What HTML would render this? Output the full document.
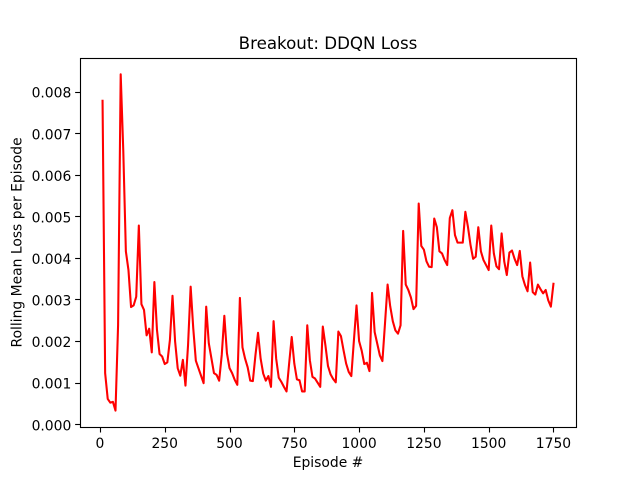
<!DOCTYPE html>
<html>
<head>
<meta charset="utf-8">
<title>Breakout: DDQN Loss</title>
<style>
html,body{margin:0;padding:0;background:#fff;}
svg{display:block;font-family:"DejaVu Sans",sans-serif;fill:#000;}
</style>
</head>
<body>
<svg id="chart" width="640" height="480" viewBox="0 0 640 480" xmlns="http://www.w3.org/2000/svg">
  <rect x="0" y="0" width="640" height="480" fill="#fff"/>
  <rect x="80" y="57.6" width="496" height="369.6" fill="#fff"/>
  <g id="marks"></g>
  <g id="axes"></g>
  <rect x="80.5" y="58.5" width="496" height="369" fill="none" stroke="#000" stroke-width="1.11"/>
  <text x="328" y="49" font-size="16.67" text-anchor="middle">Breakout: DDQN Loss</text>
  <text x="328" y="467" font-size="13.89" text-anchor="middle">Episode #</text>
  <text x="0" y="0" font-size="13.89" text-anchor="middle" transform="translate(21.5,242.4) rotate(-90)">Rolling Mean Loss per Episode</text>
</svg>
<script>
const episodeStep = 10;
const lossValues = [
0.00780,0.00125,0.00063,0.00054,0.00056,0.00035,0.00241,0.00844,0.00660,0.00418,
0.00373,0.00284,0.00288,0.00309,0.00480,0.00291,0.00277,0.00216,0.00232,0.00175,
0.00344,0.00229,0.00171,0.00165,0.00147,0.00151,0.00205,0.00311,0.00201,0.00137,
0.00119,0.00157,0.00095,0.00193,0.00333,0.00233,0.00155,0.00137,0.00119,0.00101,
0.00285,0.00197,0.00161,0.00125,0.00121,0.00107,0.00169,0.00263,0.00173,0.00137,
0.00125,0.00109,0.00097,0.00306,0.00187,0.00160,0.00139,0.00107,0.00106,0.00168,
0.00222,0.00160,0.00124,0.00107,0.00118,0.00092,0.00250,0.00160,0.00114,0.00104,
0.00092,0.00081,0.00148,0.00212,0.00148,0.00110,0.00108,0.00081,0.00081,0.00240,
0.00156,0.00116,0.00112,0.00102,0.00092,0.00237,0.00192,0.00142,0.00122,0.00111,
0.00103,0.00225,0.00214,0.00180,0.00148,0.00128,0.00118,0.00204,0.00288,0.00202,
0.00179,0.00147,0.00150,0.00130,0.00318,0.00224,0.00196,0.00168,0.00154,0.00245,
0.00338,0.00286,0.00250,0.00228,0.00220,0.00240,0.00467,0.00338,0.00325,0.00307,
0.00279,0.00287,0.00533,0.00431,0.00422,0.00394,0.00381,0.00380,0.00497,0.00476,
0.00418,0.00413,0.00397,0.00385,0.00498,0.00517,0.00457,0.00439,0.00439,0.00439,
0.00513,0.00477,0.00433,0.00400,0.00405,0.00476,0.00418,0.00397,0.00385,0.00373,
0.00480,0.00413,0.00382,0.00375,0.00461,0.00394,0.00361,0.00415,0.00420,0.00400,
0.00385,0.00419,0.00358,0.00337,0.00322,0.00391,0.00320,0.00314,0.00338,0.00327,
0.00317,0.00325,0.00300,0.00285,0.00340
];
const xTickValues = [0, 250, 500, 750, 1000, 1250, 1500, 1750];
const xTickLabels = ["0", "250", "500", "750", "1000", "1250", "1500", "1750"];
const yTickValues = [0, 0.001, 0.002, 0.003, 0.004, 0.005, 0.006, 0.007, 0.008];
const yTickLabels = ["0.000", "0.001", "0.002", "0.003", "0.004", "0.005", "0.006", "0.007", "0.008"];

const NS = "http://www.w3.org/2000/svg";
const plot = {left: 80, right: 576, top: 57.6, bottom: 427.2};
const xDomain = [-77, 1837];
const yDomain = [-0.00005, 0.00884];
function xScale(v) {
  return plot.left + (v - xDomain[0]) / (xDomain[1] - xDomain[0]) * (plot.right - plot.left);
}
function yScale(v) {
  return plot.bottom - (v - yDomain[0]) / (yDomain[1] - yDomain[0]) * (plot.bottom - plot.top);
}
const axesGroup = document.getElementById("axes");
const marksGroup = document.getElementById("marks");

xTickValues.forEach(function (v, i) {
  const x = xScale(v);
  const snappedX = Math.round(x) + 0.5;
  const tick = document.createElementNS(NS, "line");
  
  
  tick.setAttribute("x1", snappedX);
  tick.setAttribute("x2", snappedX);
  tick.setAttribute("y1", plot.bottom);
  tick.setAttribute("y2", plot.bottom + 5.3);
  tick.setAttribute("stroke", "#000");
  tick.setAttribute("stroke-width", "1.11");
  axesGroup.appendChild(tick);
  const label = document.createElementNS(NS, "text");
  
  
  label.setAttribute("x", x);
  label.setAttribute("y", 448);
  label.setAttribute("font-size", "13.89");
  label.setAttribute("text-anchor", "middle");
  label.textContent = xTickLabels[i];
  axesGroup.appendChild(label);
});

yTickValues.forEach(function (v, i) {
  const y = yScale(v);
  const snappedY = Math.round(y) - 0.5;
  const tick = document.createElementNS(NS, "line");
  
  
  tick.setAttribute("x1", plot.left - 4.86);
  tick.setAttribute("x2", plot.left);
  tick.setAttribute("y1", snappedY);
  tick.setAttribute("y2", snappedY);
  tick.setAttribute("stroke", "#000");
  tick.setAttribute("stroke-width", "1.11");
  axesGroup.appendChild(tick);
  const label = document.createElementNS(NS, "text");
  
  
  label.setAttribute("x", 71.3);
  label.setAttribute("y", y + 5.2);
  label.setAttribute("font-size", "13.89");
  label.setAttribute("text-anchor", "end");
  label.textContent = yTickLabels[i];
  axesGroup.appendChild(label);
});

const points = lossValues.map(function (v, i) {
  return xScale((i + 1) * episodeStep).toFixed(2) + "," + yScale(v).toFixed(2);
}).join(" ");
const lossLine = document.createElementNS(NS, "polyline");


lossLine.setAttribute("points", points);
lossLine.setAttribute("fill", "none");
lossLine.setAttribute("stroke", "#ff0000");
lossLine.setAttribute("stroke-width", "2.08");
lossLine.setAttribute("stroke-linejoin", "round");
lossLine.setAttribute("stroke-linecap", "square");
marksGroup.appendChild(lossLine);
</script>
</body>
</html>
